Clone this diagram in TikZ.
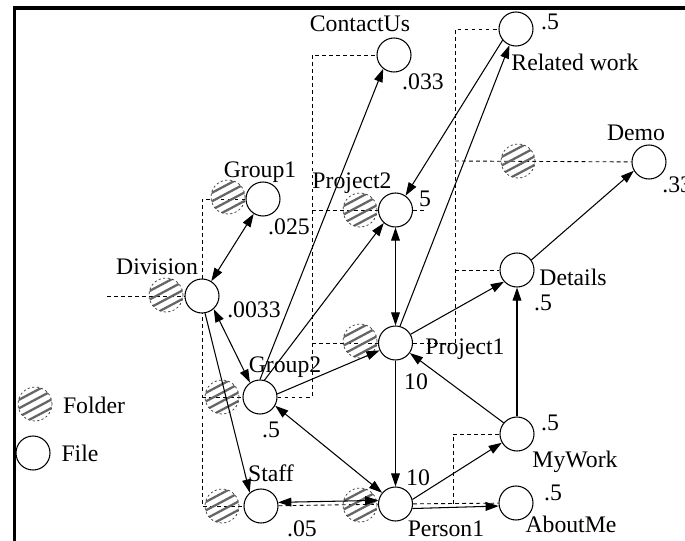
\documentclass[tikz,border=0pt]{standalone}
\usepackage{fontspec}
\setmainfont{Liberation Serif}
\usetikzlibrary{arrows.meta,backgrounds,calc}
\tikzset{
	file/.style={circle, draw, fill=white, line width=0.6pt, minimum size=0.68cm, inner sep=0pt},
	folder/.style={circle, draw=black!80, line width=0.4pt, dash pattern=on 1.2pt off 1.4pt, minimum size=0.68cm, inner sep=0pt,
		path picture={
			\foreach \k in {-0.225,-0.075,0.075,0.225}
				\draw[solid, line width=1.3pt, black!60]
					($(path picture bounding box.center)+(118:\k)+(28:-0.45)$) --
					($(path picture bounding box.center)+(118:\k)+(28:0.45)$);}},
	tree/.style={line width=0.5pt, dash pattern=on 2.2pt off 1.8pt},
	link/.style={line width=0.6pt, -{Triangle[length=7.5pt,width=5pt]}},
	dlink/.style={line width=0.6pt, {Triangle[length=7.5pt,width=5pt]}-{Triangle[length=7.5pt,width=5pt]}},
	lbl/.style={inner sep=0pt},
}

\begin{document}
\begin{tikzpicture}[font=\fontsize{13.5}{16}\selectfont]
		%%%%% START %%%%%
		\useasboundingbox (0,0) rectangle (13.7,-10.82);
		\clip (0,0) rectangle (13.7,-10.82);
		
		\draw[line width=1.8pt] (0.29,-10.9) -- (0.29,-0.16) -- (13.8,-0.16);
		
		% files
		\node[file] (div) at (4.04,-5.92) {};
		\node[file] (grp1) at (5.26,-3.98) {};
		\node[file] (grp2) at (5.20,-7.94) {};
		\node[file] (staff) at (5.22,-10.12) {};
		\node[file] (proj2) at (7.91,-4.20) {};
		\node[file] (contact) at (7.88,-1.10) {};
		\node[file] (related) at (10.32,-0.58) {};
		\node[file] (demo) at (12.98,-3.24) {};
		\node[file] (details) at (10.34,-5.40) {};
		\node[file] (proj1) at (7.91,-6.86) {};
		\node[file] (mywork) at (10.34,-8.68) {};
		\node[file] (person1) at (7.91,-10.08) {};
		\node[file] (aboutme) at (10.32,-10.06) {};
		
		% folders
		\node[folder] (divF) at (3.32,-5.90) {};
		\node[folder] (grp1F) at (4.56,-3.94) {};
		\node[folder] (grp2F) at (4.44,-7.94) {};
		\node[folder] (staffF) at (4.44,-10.12) {};
		\node[folder] (proj2F) at (7.20,-4.20) {};
		\node[folder] (proj1F) at (7.20,-6.82) {};
		\node[folder] (person1F) at (7.20,-10.10) {};
		\node[folder] (demoF) at (10.36,-3.22) {};
		
		% tree
		\coordinate (divIn) at (2.14,-5.92);
		\coordinate (g2Bus) at (6.24,-7.94);
		\coordinate (p1Bus) at (9.10,-6.86);
		\coordinate (pnBus) at (9.06,-10.08);
		\coordinate (p2Stub) at (8.50,-4.20);
		\begin{scope}[on background layer]
			\draw[tree] (divIn) -- (div);
			\draw[tree] (grp1) -- (div |- grp1) -- (div |- staff) -- (staff);
			\draw[tree] (div |- grp2) -- (grp2);
			\draw[tree] (grp2) -- (g2Bus) |- (contact);
			\draw[tree] (g2Bus |- proj2) -- (proj2);
			\draw[tree] (g2Bus |- proj1) -- (proj1);
			\draw[tree] (proj2) -- (p2Stub);
			\draw[tree] (proj1) -- (p1Bus) |- (related);
			\draw[tree] (p1Bus |- demoF) -- (demo);
			\draw[tree] (p1Bus |- details) -- (details);
			\draw[tree] (person1) -- (aboutme);
			\draw[tree] (pnBus) |- (mywork);
			\draw[tree] (staff) -- (person1);
		\end{scope}
		
		% links
		\draw[dlink] (div) -- (grp1);
		\draw[dlink] (div.-48) -- (grp2.125);
		\draw[link] (div.-80) -- (staff.130);
		\draw[link] (grp2.90) -- (contact.232);
		\draw[link] (grp2.75) -- (proj2.228);
		\draw[link] (grp2.10) -- (proj1.205);
		\draw[dlink] (grp2.-30) -- (person1.140);
		\draw[dlink] (proj2) -- (proj1);
		\draw[link] (related.220) -- (proj2.55);
		\draw[link] (proj1.75) -- (related.248);
		\draw[link] (proj1.30) -- (details.222);
		\draw[link] (details.35) -- (demo.210);
		\draw[link] (mywork) -- (details);
		\draw[link] (mywork.140) -- (proj1.-35);
		\draw[link] (proj1) -- (person1);
		\draw[link] (person1.15) -- (mywork.210);
		\draw[link] (person1.-15) -- (aboutme.190);
		\draw[dlink] (staff.12) -- (person1.168);
		
		% labels
		\node[lbl] (contactName) at (7.20,-0.48) {ContactUs};
		\node[lbl] (contactNum) at (8.46,-1.64) {.033};
		\node[lbl] (relatedNum) at (11.00,-0.44) {.5};
		\node[lbl] (relatedName) at (11.50,-1.24) {Related work};
		\node[lbl] (demoName) at (12.72,-2.66) {Demo};
		\node[lbl, anchor=west] (demoNum) at (13.24,-3.70) {.33};
		\node[lbl] (grp1Name) at (5.20,-3.44) {Group1};
		\node[lbl] (grp1Num) at (5.78,-4.54) {.025};
		\node[lbl] (divName) at (3.14,-5.34) {Division};
		\node[lbl] (divNum) at (5.08,-6.20) {.0033};
		\node[lbl] (grp2Name) at (5.70,-7.34) {Group2};
		\node[lbl] (grp2Num) at (5.42,-8.60) {.5};
		\node[lbl] (staffName) at (5.42,-9.46) {Staff};
		\node[lbl] (staffNum) at (6.04,-10.58) {.05};
		\node[lbl] (proj2Name) at (7.04,-3.66) {Project2};
		\node[lbl] (proj2Num) at (8.50,-3.98) {5};
		\node[lbl] (proj1Name) at (9.30,-6.98) {Project1};
		\node[lbl] (proj1Num) at (8.32,-7.64) {10};
		\node[lbl] (detailsName) at (11.46,-5.54) {Details};
		\node[lbl] (detailsNum) at (10.86,-6.06) {.5};
		\node[lbl] (myworkNum) at (11.00,-8.46) {.5};
		\node[lbl] (myworkName) at (11.50,-9.24) {MyWork};
		\node[lbl] (person1Num) at (8.36,-9.56) {10};
		\node[lbl] (person1Name) at (8.92,-10.58) {Person1};
		\node[lbl] (aboutmeNum) at (11.06,-9.86) {.5};
		\node[lbl] (aboutmeName) at (11.42,-10.48) {AboutMe};
		
		% legend
		\node[folder] (legFolder) at (0.70,-8.08) {};
		\node[lbl] (legFolderName) at (1.88,-8.10) {Folder};
		\node[file] (legFile) at (0.66,-9.06) {};
		\node[lbl] (legFileName) at (1.60,-9.06) {File};
		
		%%%%% END %%%%%
	\end{tikzpicture}
\end{document}
